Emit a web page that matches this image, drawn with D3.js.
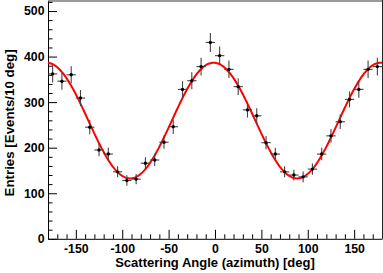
<!DOCTYPE html>
<html><head><meta charset="utf-8">
<script src="https://cdn.jsdelivr.net/npm/d3@7"></script>
<style>
html,body{margin:0;padding:0;background:#fff;}
svg{display:block;}
text{font-family:"Liberation Sans",Arial,Helvetica,sans-serif;font-weight:bold;fill:#000;}
</style></head>
<body>
<svg id="c" width="383" height="273"></svg>
<script>
// Bin centres (deg) and entries
const angles = [-175,-165,-155,-145,-135,-125,-115,-105,-95,-85,-75,-65,-55,-45,-35,-25,-15,-5,
                5,15,25,35,45,55,65,75,85,95,105,115,125,135,145,155,165,175];
const entries = [362,346,360,309,245,195,186,147,128,131,166,173,212,246,328,347,378,431,
                 402,372,334,283,270,211,186,147,140,136,153,186,226,257,306,328,372,378];
const binHalfWidth = 5;
// Fit: p0 + p1*cos(2*(phi - p2))
const fitParams = [259.5, 127, -1.5];
const xTicks = [-150,-100,-50,0,50,100,150];
const yTicks = [0,100,200,300,400,500];
const xTitle = "Scattering Angle (azimuth) [deg]";
const yTitle = "Entries [Events/10 deg]";

const L = 48, R = 382, T = 1, B = 238.8;
const svg = d3.select("#c");
const x = d3.scaleLinear().domain([-180,180]).range([L,R]);
const y = d3.scaleLinear().domain([0,522]).range([B,T]);

// frame top (gray) and right
svg.append("line").attr("x1",L).attr("x2",383).attr("y1",1).attr("y2",1)
  .attr("stroke","#9a9a9a").attr("stroke-width",2);
svg.append("line").attr("x1",R+0.5).attr("x2",R+0.5).attr("y1",0).attr("y2",B)
  .attr("stroke","#222").attr("stroke-width",1);

// minor ticks
const xMinor = d3.range(-170,180,10).filter(v=>v%50!==0);
const yMinor = d3.range(20,521,20).filter(v=>v%100!==0);
svg.append("g").attr("transform",`translate(0,${B})`)
  .call(d3.axisBottom(x).tickValues(xMinor).tickSize(-4.5).tickFormat(""))
  .call(g=>g.select(".domain").remove());
svg.append("g").attr("transform",`translate(${L},0)`)
  .call(d3.axisLeft(y).tickValues(yMinor).tickSize(-4.5).tickFormat(""))
  .call(g=>g.select(".domain").remove());

// major axes
const gx = svg.append("g").attr("transform",`translate(0,${B})`)
  .call(d3.axisBottom(x).tickValues(xTicks).tickSize(-9).tickSizeOuter(0).tickPadding(5).tickFormat(d3.format("d")));
const gy = svg.append("g").attr("transform",`translate(${L},0)`)
  .call(d3.axisLeft(y).tickValues(yTicks).tickSize(-9).tickSizeOuter(0).tickPadding(3.5).tickFormat(d3.format("d")));
[gx,gy].forEach(g=>{
  g.selectAll("text").style("font-size","12.3px").style("font-family",null).attr("fill","#000");
  g.attr("font-family",null).attr("font-size",null);
  g.selectAll("line,path").attr("stroke","#000");
});
gx.selectAll("text").text(d=>d<0?"-"+Math.abs(d):d);

// titles
svg.append("text").attr("x",(L+R)/2).attr("y",267).attr("text-anchor","middle")
  .style("font-size","13px").text(xTitle);
svg.append("text").attr("transform",`translate(13.5,${(T+B)/2+3}) rotate(-90)`)
  .attr("text-anchor","middle").style("font-size","13.3px").text(yTitle);

// fit curve
const phis = d3.range(-180,180.01,1);
const fit = p => fitParams[0] + fitParams[1]*Math.cos(2*(p-fitParams[2])*Math.PI/180);
svg.append("path").datum(phis)
  .attr("d", d3.line().x(p=>x(p)).y(p=>y(fit(p))))
  .attr("fill","none").attr("stroke","#ff0000").attr("stroke-width",2);

// data points with error bars
const pts = angles.map((a,i)=>({a, v:entries[i], e:Math.sqrt(entries[i])}));
const gp = svg.append("g");
gp.selectAll("line.v").data(pts).join("line").attr("class","v")
  .attr("x1",d=>x(d.a)).attr("x2",d=>x(d.a)).attr("y1",d=>y(d.v-d.e)).attr("y2",d=>y(d.v+d.e))
  .attr("stroke","#444").attr("stroke-width",1.1);
gp.selectAll("line.h").data(pts).join("line").attr("class","h")
  .attr("x1",d=>x(d.a-binHalfWidth)).attr("x2",d=>x(d.a+binHalfWidth)).attr("y1",d=>y(d.v)).attr("y2",d=>y(d.v))
  .attr("stroke","#444").attr("stroke-width",1.1);
gp.selectAll("circle").data(pts).join("circle")
  .attr("cx",d=>x(d.a)).attr("cy",d=>y(d.v)).attr("r",1.7).attr("fill","#000");
</script>
</body></html>
